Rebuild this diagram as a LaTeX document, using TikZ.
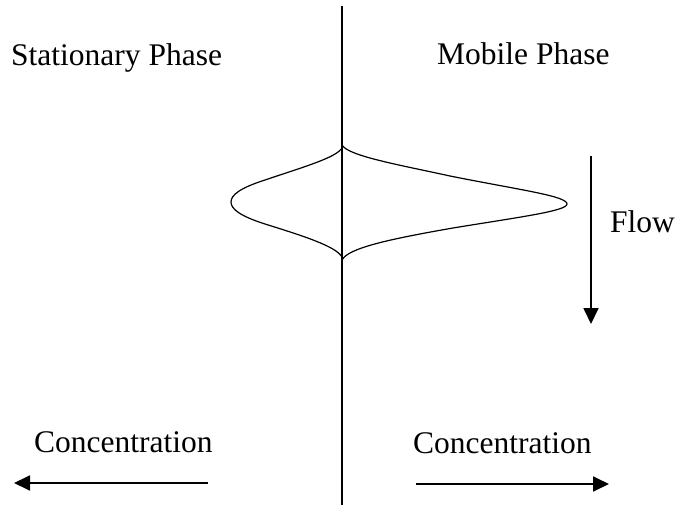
\documentclass[tikz,border=0pt]{standalone}
\usepackage{fontspec}
\setmainfont{Liberation Serif}
\usetikzlibrary{arrows.meta}
\begin{document}
\begin{tikzpicture}[x=1pt,y=-1pt,
  lbl/.style={anchor=base west,inner sep=0pt,font=\fontsize{31.5}{36}\selectfont},
  arr/.style={line width=1.8pt,-{Triangle[length=16pt,width=15pt]}},
  curve/.style={line width=1.2pt}]
\useasboundingbox (0,0) rectangle (677,505);
% divider
\coordinate (vtop) at (342,6);
\coordinate (vbot) at (342,505);
\draw[line width=1.4pt] (vtop) -- (vbot);
% labels
\node[lbl] (stat) at (11,66) {Stationary Phase};
\node[lbl] (mob) at (437,65) {Mobile Phase};
\node[lbl] (flow) at (610,232) {Flow};
\node[lbl] (concL) at (34,452) {Concentration};
\node[lbl] (concR) at (413,453) {Concentration};
% peaks
\draw[curve] (342,145) .. controls (348,156) and (400,165) .. (450,176)
  .. controls (520,190) and (567,196) .. (567,204)
  .. controls (567,211) and (520,217) .. (453,228)
  .. controls (390,239) and (348,248) .. (342,260);
\draw[curve] (342,148) .. controls (336,158) and (300,168) .. (265,180)
  .. controls (240,188) and (231,195) .. (231,202)
  .. controls (231,209) and (240,216) .. (265,224)
  .. controls (300,235) and (336,246) .. (342,257);
% arrows
\coordinate (fA) at (591,156);
\coordinate (fB) at (591,324);
\draw[arr] (fA) -- (fB);
\coordinate (lA) at (208,483);
\coordinate (lB) at (14,483);
\draw[arr] (lA) -- (lB);
\coordinate (rA) at (416,484);
\coordinate (rB) at (609,484);
\draw[arr] (rA) -- (rB);
\end{tikzpicture}
\end{document}
